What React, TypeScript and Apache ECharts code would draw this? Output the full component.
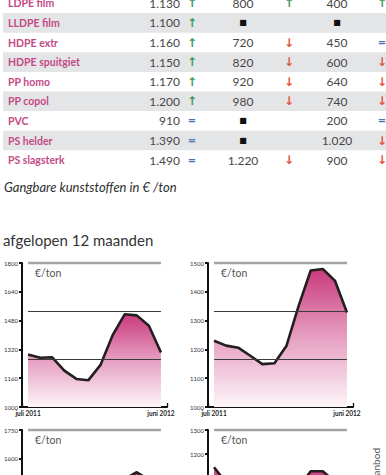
import React, { useEffect, useRef } from "react";
import * as echarts from "echarts";

// ---------- table data ----------
const materials = ["LDPE film", "LLDPE film", "HDPE extr", "HDPE spuitgiet", "PP homo", "PP copol", "PVC", "PS helder", "PS slagsterk"];
const priceNew = ["1.130", "1.100", "1.160", "1.150", "1.170", "1.200", "910", "1.390", "1.490"];
const trendNew = ["up", "up", "up", "up", "up", "up", "eq", "eq", "eq"];
const priceRegrind = ["800", "■", "720", "820", "920", "980", "■", "■", "1.220"];
const trendRegrind = ["up", "", "down", "down", "down", "down", "", "", "down"];
const priceWaste = ["400", "■", "450", "600", "640", "740", "200", "1.020", "900"];
const trendWaste = ["up", "", "eq", "down", "down", "down", "eq", "down", "down"];

// ---------- chart data ----------
const months = ["juli 2011", "aug 2011", "sep 2011", "okt 2011", "nov 2011", "dec 2011", "jan 2012", "feb 2012", "mrt 2012", "apr 2012", "mei 2012", "juni 2012"];

const ldpeValues = [1292, 1274, 1276, 1202, 1156, 1149, 1234, 1399, 1515, 1509, 1451, 1303];
const hdpeValues = [1230, 1213, 1206, 1178, 1149, 1152, 1213, 1351, 1474, 1479, 1439, 1328];
const ppValues = [1290, 1280, 1285, 1240, 1200, 1195, 1250, 1390, 1495, 1530, 1490, 1400];
const pvcValues = [1145, 1080, 1070, 1040, 1010, 1000, 1020, 1060, 1128, 1128, 1085, 1010];

const ldpeTicks = [1000, 1160, 1320, 1480, 1640, 1800];
const hdpeTicks = [1000, 1100, 1200, 1300, 1400, 1500];
const ppTicks = [1000, 1150, 1300, 1450, 1600, 1750];
const pvcTicks = [700, 800, 900, 1000, 1100, 1200, 1300];

const ldpeRefLines = [1267, 1533];
const hdpeRefLines = [1167, 1333];
const ppRefLines = [1250, 1500];
const pvcRefLines = [900, 1100];

const panelNames = ["LDPE", "HDPE (extr.)", "", ""];

// ---------- layout / style ----------
const panels = [
  { values: ldpeValues, ticks: ldpeTicks, refs: ldpeRefLines, left: 22, top: 263, nameY: 381 },
  { values: hdpeValues, ticks: hdpeTicks, refs: hdpeRefLines, left: 208, top: 263, nameY: 383 },
  { values: ppValues, ticks: ppTicks, refs: ppRefLines, left: 22, top: 430, nameY: 600 },
  { values: pvcValues, ticks: pvcTicks, refs: pvcRefLines, left: 208, top: 430, nameY: 600 },
];
const GRID_W = 145;
const GRID_H = 144;

const ROW0 = 3.3;
const ROW_H = 19.6;
const NAME_COLOR = "#c44a86";
const NUM_COLOR = "#474747";
const FONT = "Lato, 'Open Sans', sans-serif";

const trendGlyph: Record<string, { t: string; c: string }> = {
  up: { t: "↑", c: "#3f9a5e" },
  down: { t: "↓", c: "#e0573b" },
  eq: { t: "=", c: "#4a78ae" },
};

function cellText(x: number, y: number, text: string, align: string, isSquare = false) {
  return {
    type: "text",
    x,
    y,
    silent: true,
    style: {
      text,
      align,
      verticalAlign: "middle",
      fill: isSquare ? "#111" : NUM_COLOR,
      fontSize: isSquare ? 8 : 12,
      fontFamily: isSquare ? "DejaVu Sans" : FONT,
    },
  };
}

function trendText(x: number, y: number, key: string) {
  if (!key) return null;
  const g = trendGlyph[key];
  return {
    type: "text",
    x,
    y,
    silent: true,
    style: {
      text: g.t,
      align: "center",
      verticalAlign: "middle",
      fill: g.c,
      fontSize: key === "eq" ? 10 : 12,
      fontWeight: "bold",
      fontFamily: "DejaVu Sans",
    },
  };
}

function buildGraphics() {
  const els: any[] = [];
  materials.forEach((name, i) => {
    const y = ROW0 + ROW_H * i;
    if (i % 2 === 1) {
      els.push({
        type: "rect",
        silent: true,
        z: -10,
        shape: { x: 3, y: y - ROW_H / 2, width: 383, height: ROW_H },
        style: { fill: "#e4e5e7" },
      });
    }
    els.push({
      type: "text",
      x: 8,
      y,
      silent: true,
      style: { text: name, align: "left", verticalAlign: "middle", fill: NAME_COLOR, fontSize: 10.5, fontWeight: "bold", fontFamily: FONT },
    });
    els.push(cellText(180, y, priceNew[i], "right", priceNew[i] === "■"));
    els.push(cellText(243, y, priceRegrind[i], "center", priceRegrind[i] === "■"));
    els.push(cellText(337, y, priceWaste[i], "center", priceWaste[i] === "■"));
    [trendText(192, y, trendNew[i]), trendText(289, y, trendRegrind[i]), trendText(382, y, trendWaste[i])].forEach((e) => e && els.push(e));
  });

  els.push({
    type: "text",
    x: 4,
    y: 187,
    silent: true,
    style: { text: "Gangbare kunststoffen in € /ton", verticalAlign: "middle", fill: "#2e2e2e", fontSize: 13, fontStyle: "italic", fontFamily: FONT },
  });
  els.push({
    type: "text",
    x: 3,
    y: 240,
    silent: true,
    style: { text: "afgelopen 12 maanden", verticalAlign: "middle", fill: "#333", fontSize: 15, fontFamily: FONT },
  });

  panels.forEach((p, k) => {
    els.push({
      type: "text",
      x: p.left + 13,
      y: p.top + 10,
      silent: true,
      style: { text: "€/ton", verticalAlign: "middle", fill: "#555", fontSize: 10.5, fontFamily: FONT },
    });
    if (panelNames[k]) {
      els.push({
        type: "text",
        x: p.left + 13,
        y: p.nameY,
        silent: true,
        style: { text: panelNames[k], verticalAlign: "middle", fill: "#1e1e1e", fontSize: 11, fontWeight: "bold", fontFamily: FONT },
      });
    }
  });

  els.push({
    type: "text",
    x: 376,
    y: 448,
    rotation: Math.PI / 2,
    silent: true,
    style: { text: "aanbod", align: "right", verticalAlign: "middle", fill: "#555", fontSize: 10, fontFamily: FONT },
  });
  return els;
}

function buildOption() {
  const grid = panels.map((p) => ({ left: p.left, top: p.top, width: GRID_W, height: GRID_H }));
  const xAxis = panels.map((_, k) => ({
    gridIndex: k,
    type: "category",
    data: months,
    boundaryGap: true,
    axisLine: { lineStyle: { color: "#111", width: 2 } },
    axisTick: { show: true, inside: true, length: 4, interval: 0, lineStyle: { color: "#111", width: 1.3 } },
    axisLabel: {
      interval: (i: number) => i === 0 || i === months.length - 1,
      fontSize: 6.5,
      fontWeight: "bold",
      color: "#222",
      margin: 3,
      fontFamily: FONT,
    },
    splitLine: { show: false },
  }));
  const yAxis = panels.map((p, k) => ({
    gridIndex: k,
    type: "value",
    min: p.ticks[0],
    max: p.ticks[p.ticks.length - 1],
    axisLine: { show: true, lineStyle: { color: "#111", width: 2 } },
    axisTick: { show: true, length: 3, customValues: p.ticks, lineStyle: { color: "#111", width: 2 } },
    axisLabel: {
      customValues: p.ticks,
      formatter: (v: number) => String(v),
      fontSize: 6,
      color: "#333",
      margin: 4,
      fontFamily: FONT,
    },
    splitLine: { show: false },
  }));
  const first = months[0];
  const last = months[months.length - 1];
  const series = panels.map((p, k) => ({
    type: "line",
    xAxisIndex: k,
    yAxisIndex: k,
    data: p.values,
    symbol: "none",
    lineStyle: { color: "#231f20", width: 2.6, join: "round" },
    areaStyle: {
      color: new echarts.graphic.LinearGradient(0, 0, 0, 1, [
        { offset: 0, color: "#c93a7c" },
        { offset: 0.5, color: "#e6a0c2" },
        { offset: 1, color: "#fdf5f9" },
      ]),
      opacity: 1,
    },
    markLine: {
      silent: true,
      symbol: "none",
      label: { show: false },
      emphasis: { disabled: true },
      data: [
        [
          { coord: [first, p.ticks[p.ticks.length - 1]], lineStyle: { color: "#a3a3a3", width: 2.4, type: "solid" } },
          { coord: [last, p.ticks[p.ticks.length - 1]] },
        ],
        ...p.refs.map((v) => [
          { coord: [first, v], lineStyle: { color: "#3a3a3a", width: 1, type: "solid" } },
          { coord: [last, v] },
        ]),
      ],
    },
  }));
  return {
    animation: false,
    grid,
    xAxis,
    yAxis,
    series,
    graphic: buildGraphics(),
  };
}

export default function App() {
  const ref = useRef<HTMLDivElement>(null);
  useEffect(() => {
    if (!ref.current) return;
    const chart = echarts.init(ref.current, undefined, { renderer: "svg" });
    chart.setOption(buildOption() as any);
    return () => chart.dispose();
  }, []);
  return (
    <div style={{ position: "fixed", left: 0, top: 0, width: 386, height: 475, overflow: "hidden", background: "#fff" }}>
      <div ref={ref} style={{ width: 386, height: 620 }} />
    </div>
  );
}
